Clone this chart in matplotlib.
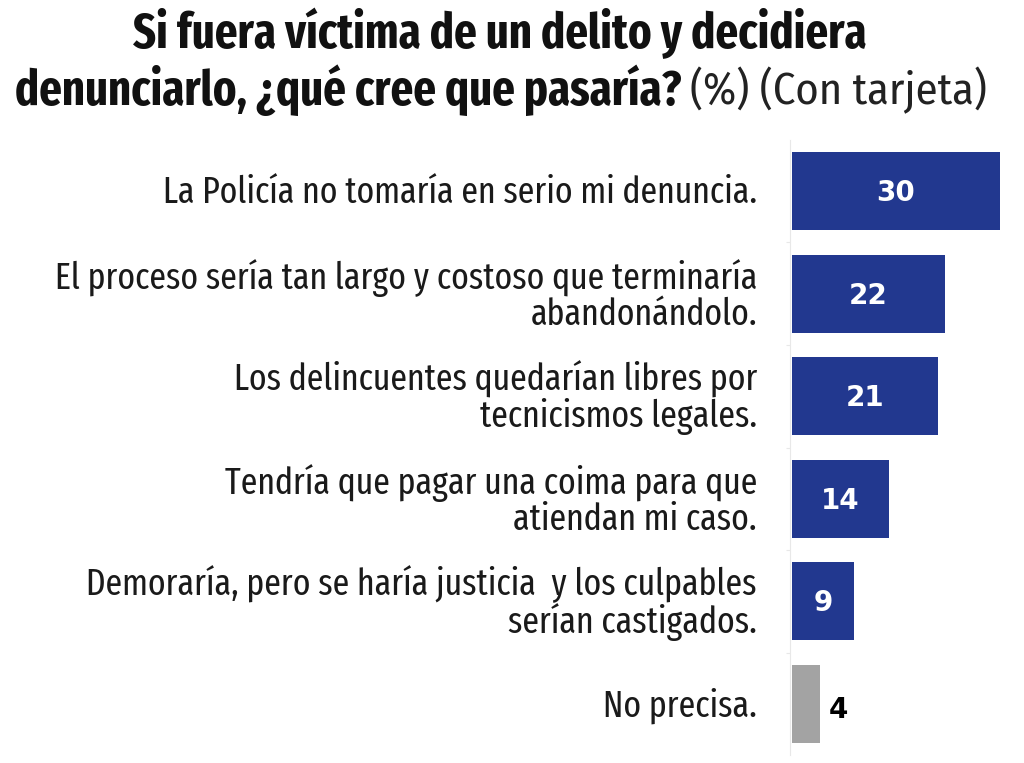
import matplotlib
matplotlib.use("Agg")
import matplotlib.pyplot as plt
import matplotlib.transforms as mtransforms

plt.rcParams['font.family'] = ['Fira Sans Extra Condensed', 'DejaVu Sans']

categories = [
    "La Policía no tomaría en serio mi denuncia.",
    "El proceso sería tan largo y costoso que terminaría\nabandonándolo.",
    "Los delincuentes quedarían libres por\ntecnicismos legales.",
    "Tendría que pagar una coima para que\natiendan mi caso.",
    "Demoraría, pero se haría justicia  y los culpables\nserían castigados.",
    "No precisa.",
]
values = [30, 22, 21, 14, 9, 4]
colors = ["#22388f"] * 5 + ["#a3a3a3"]

W, H = 1024, 763
fig = plt.figure(figsize=(W / 100, H / 100), dpi=100)
renderer = fig.canvas.get_renderer()


def fit(txt, width_px):
    # scale the font so the text spans width_px
    w = txt.get_window_extent(renderer).width
    txt.set_fontsize(txt.get_fontsize() * width_px / w)


x0, x1 = 792, 1000
y_top, y_bot = 140, 755
ax = fig.add_axes([x0 / W, 1 - y_bot / H, (x1 - x0) / W, (y_bot - y_top) / H])

pos = list(range(len(values)))
ax.barh(pos, values, height=0.76, color=colors)
ax.set_xlim(0, 30)
ax.set_ylim(5.497, -0.497)

for s in ["top", "right", "bottom"]:
    ax.spines[s].set_visible(False)
ax.spines["left"].set_color("#e8e8e8")
ax.spines["left"].set_position(("data", -0.3))
ax.set_xticks([])
ax.set_yticks([p + 0.5 for p in pos[:-1]])
ax.tick_params(axis="y", length=3, color="#e8e8e8", labelleft=False)

lab_tr = mtransforms.blended_transform_factory(ax.transAxes, ax.transData)
labels = []
for p, lab in zip(pos, categories):
    t = ax.text(-35 / 208, p + 0.02, lab, transform=lab_tr, ha="right", va="center",
                fontsize=21, color="#1a1a1a", linespacing=1.0)
    labels.append(t)
fit(labels[0], 595)
for t in labels[1:]:
    t.set_fontsize(labels[0].get_fontsize())

for p, v in zip(pos, values):
    if v >= 9:
        ax.text(v / 2, p + 0.02, str(v), ha="center", va="center", color="white",
                fontsize=20, fontweight="bold", family="DejaVu Sans")
    else:
        ax.text(v + 1.3, p + 0.06, str(v), ha="left", va="center", color="black",
                fontsize=20, fontweight="bold", family="DejaVu Sans")

# title
ta = fig.text(0.488, 1 - 33 / H, "Si fuera víctima de un delito y decidiera",
              ha="center", va="center", fontsize=26, fontweight="bold", color="#111111")
fit(ta, 735)
t1 = fig.text(15 / W, 1 - 90 / H, "denunciarlo, ¿qué cree que pasaría?",
              ha="left", va="center", fontsize=ta.get_fontsize(), fontweight="bold",
              color="#111111")
t2 = fig.text(0.5, 1 - 90 / H, "(%) (Con tarjeta)",
              ha="left", va="center", fontsize=ta.get_fontsize() * 0.92,
              family="Fira Sans Condensed", color="#222222")
b1 = t1.get_window_extent(renderer)
t2.set_x((b1.x1 + 8) / W)
b2 = t2.get_window_extent(renderer)
# squeeze line 2 to the reference width if needed
total = b2.x1 - b1.x0
if total > 972:
    k = 972 / total
    t1.set_fontsize(t1.get_fontsize() * k)
    t2.set_fontsize(t2.get_fontsize() * k)
    b1 = t1.get_window_extent(renderer)
    t2.set_x((b1.x1 + 8) / W)

fig.savefig("out.png", dpi=100, facecolor="white")
